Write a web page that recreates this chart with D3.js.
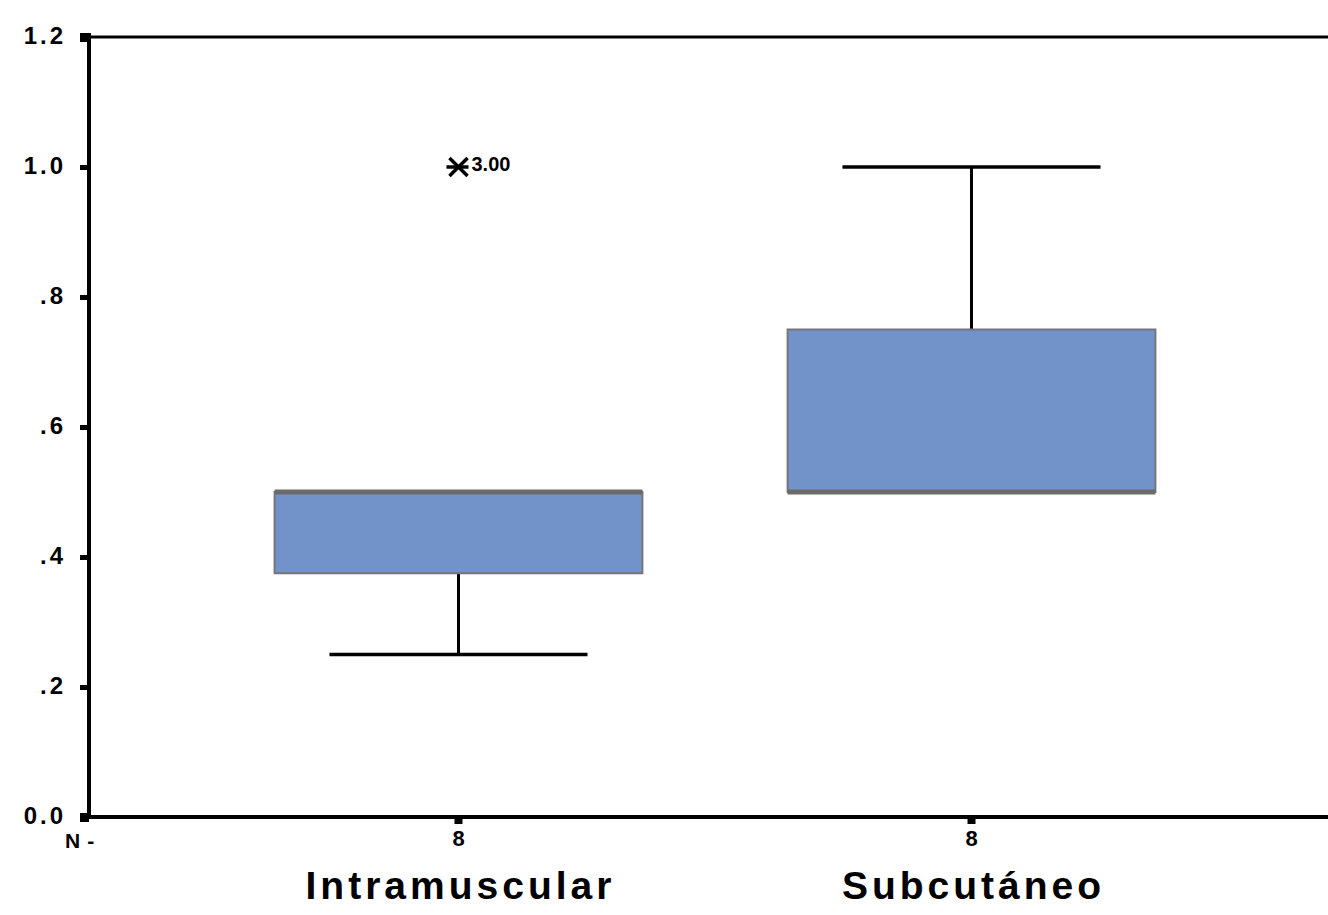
<!DOCTYPE html>
<html>
<head>
<meta charset="utf-8">
<script src="https://cdn.jsdelivr.net/npm/d3@7/dist/d3.min.js"></script>
<style>
  html, body { margin: 0; padding: 0; background: #fff; }
  svg { display: block; }
</style>
</head>
<body>
<svg id="chart" width="1328" height="915"></svg>
<script>
// Groups and their sample sizes
const categories = ["Intramuscular", "Subcutáneo"];
const counts = [8, 8];

// Five-number summaries per group (whisker low, Q1, median, Q3, whisker high)
const whiskerLow = [0.25, 0.5];
const q1 = [0.375, 0.5];
const median = [0.5, 0.5];
const q3 = [0.5, 0.75];
const whiskerHigh = [0.5, 1.0];

// Extreme values: group index, value, case label
const extremeGroup = [0];
const extremeValue = [1.0];
const extremeLabel = ["3.00"];

// Y axis ticks
const yTickValues = [0, 0.2, 0.4, 0.6, 0.8, 1.0, 1.2];
const yTickLabels = ["0.0", ".2", ".4", ".6", ".8", "1.0", "1.2"];

const svg = d3.select("#chart");
const plotLeft = 89, plotRight = 1328, plotTop = 37, plotBottom = 817;

const y = d3.scaleLinear().domain([0, 1.2]).range([plotBottom, plotTop]);
const x = d3.scaleBand().domain(categories).range([202, 1228]).padding(0);
const cx = c => x(c) + x.bandwidth() / 2;
const boxW = x.bandwidth() * 0.717;
const capW = x.bandwidth() * 0.503;

const fill = "#7292ca";
const edge = "#767676";
const ink = "#000";
const plainFont = "'Liberation Sans', Arial, sans-serif";

// Frame: top border and baseline run to the edge
svg.append("line").attr("x1", plotLeft).attr("x2", plotRight).attr("y1", plotTop).attr("y2", plotTop)
  .attr("stroke", ink).attr("stroke-width", 3);
svg.append("line").attr("x1", plotLeft).attr("x2", plotRight).attr("y1", plotBottom).attr("y2", plotBottom)
  .attr("stroke", ink).attr("stroke-width", 4);

// Y axis
const yAxis = d3.axisLeft(y)
  .tickValues(yTickValues)
  .tickFormat((d, i) => yTickLabels[i])
  .tickSize(9)
  .tickPadding(14);
const gy = svg.append("g").attr("transform", `translate(${plotLeft},0)`).call(yAxis);
gy.select(".domain").attr("stroke", ink).attr("stroke-width", 4)
  .attr("d", `M0,${plotTop - 4}V${plotBottom + 2}`);
gy.selectAll(".tick line").attr("stroke", ink).attr("stroke-width", 5);
gy.selectAll(".tick text")
  .attr("fill", ink)
  .attr("dy", "0.26em")
  .style("font-family", plainFont)
  .style("font-size", "24px")
  .style("font-weight", "bold")
  .style("letter-spacing", "3px");
// Heavier end ticks at 0.0 and 1.2
gy.selectAll(".tick").filter(d => d === 0 || d === 1.2)
  .select("line").attr("stroke-width", 9);

// X axis: tick marks, sample sizes, group names
const xAxis = d3.axisBottom(x).tickSize(7).tickFormat((d, i) => counts[i]);
const gx = svg.append("g").attr("transform", `translate(0,${plotBottom})`).call(xAxis);
gx.select(".domain").remove();
gx.selectAll(".tick line").attr("stroke", ink).attr("stroke-width", 8);
gx.selectAll(".tick text")
  .attr("fill", ink)
  .attr("dy", "0.85em")
  .style("font-family", plainFont)
  .style("font-size", "22px")
  .style("font-weight", "bold");

const nLabel = svg.append("text")
  .attr("x", 65).attr("y", 848)
  .attr("fill", ink)
  .style("font-family", plainFont)
  .style("font-size", "21px")
  .style("font-weight", "bold");
nLabel.append("tspan").text("N");
nLabel.append("tspan").attr("dx", 7).text("-");

svg.append("g").selectAll("text")
  .data(categories)
  .join("text")
  .attr("x", d => cx(d) + 2)
  .attr("y", 899)
  .attr("text-anchor", "middle")
  .attr("fill", ink)
  .style("font-family", plainFont)
  .style("font-size", "39px")
  .style("font-weight", "bold")
  .style("letter-spacing", "4px")
  .text(d => d);

// Boxes
const groups = categories.map((c, i) => ({
  c, lo: whiskerLow[i], q1: q1[i], med: median[i], q3: q3[i], hi: whiskerHigh[i]
}));

const g = svg.append("g").selectAll("g").data(groups).join("g");

// Whisker stems
g.filter(d => d.hi > d.q3).append("line")
  .attr("x1", d => cx(d.c)).attr("x2", d => cx(d.c))
  .attr("y1", d => y(d.q3)).attr("y2", d => y(d.hi))
  .attr("stroke", ink).attr("stroke-width", 3);
g.filter(d => d.lo < d.q1).append("line")
  .attr("x1", d => cx(d.c)).attr("x2", d => cx(d.c))
  .attr("y1", d => y(d.q1)).attr("y2", d => y(d.lo))
  .attr("stroke", ink).attr("stroke-width", 3);

// Whisker caps
g.filter(d => d.hi > d.q3).append("line")
  .attr("x1", d => cx(d.c) - capW / 2).attr("x2", d => cx(d.c) + capW / 2)
  .attr("y1", d => y(d.hi)).attr("y2", d => y(d.hi))
  .attr("stroke", ink).attr("stroke-width", 3.5);
g.filter(d => d.lo < d.q1).append("line")
  .attr("x1", d => cx(d.c) - capW / 2).attr("x2", d => cx(d.c) + capW / 2)
  .attr("y1", d => y(d.lo)).attr("y2", d => y(d.lo))
  .attr("stroke", ink).attr("stroke-width", 3.5);

// Interquartile box
g.append("rect")
  .attr("x", d => cx(d.c) - boxW / 2)
  .attr("width", boxW)
  .attr("y", d => y(d.q3))
  .attr("height", d => y(d.q1) - y(d.q3))
  .attr("fill", fill)
  .attr("stroke", edge)
  .attr("stroke-width", 2);

// Median
g.append("line")
  .attr("x1", d => cx(d.c) - boxW / 2).attr("x2", d => cx(d.c) + boxW / 2)
  .attr("y1", d => y(d.med)).attr("y2", d => y(d.med))
  .attr("stroke", "#6a6a6a").attr("stroke-width", 5);

// Extreme values drawn as asterisks with case labels
const ext = extremeGroup.map((gi, i) => ({ c: categories[gi], v: extremeValue[i], label: extremeLabel[i] }));
const eg = svg.append("g").selectAll("g").data(ext).join("g")
  .attr("transform", d => `translate(${cx(d.c)},${y(d.v)})`);
eg.append("path")
  .attr("d", d3.symbol().type(d3.symbolTimes).size(215))
  .attr("stroke", ink).attr("stroke-width", 3.5).attr("fill", "none");
eg.append("line")
  .attr("x1", -12).attr("x2", 10).attr("y1", 0).attr("y2", 0)
  .attr("stroke", ink).attr("stroke-width", 3.5);
eg.append("text")
  .attr("x", 13).attr("y", 4)
  .attr("fill", ink)
  .style("font-family", plainFont)
  .style("font-size", "20px")
  .style("font-weight", "bold")
  .text(d => d.label);
</script>
</body>
</html>
